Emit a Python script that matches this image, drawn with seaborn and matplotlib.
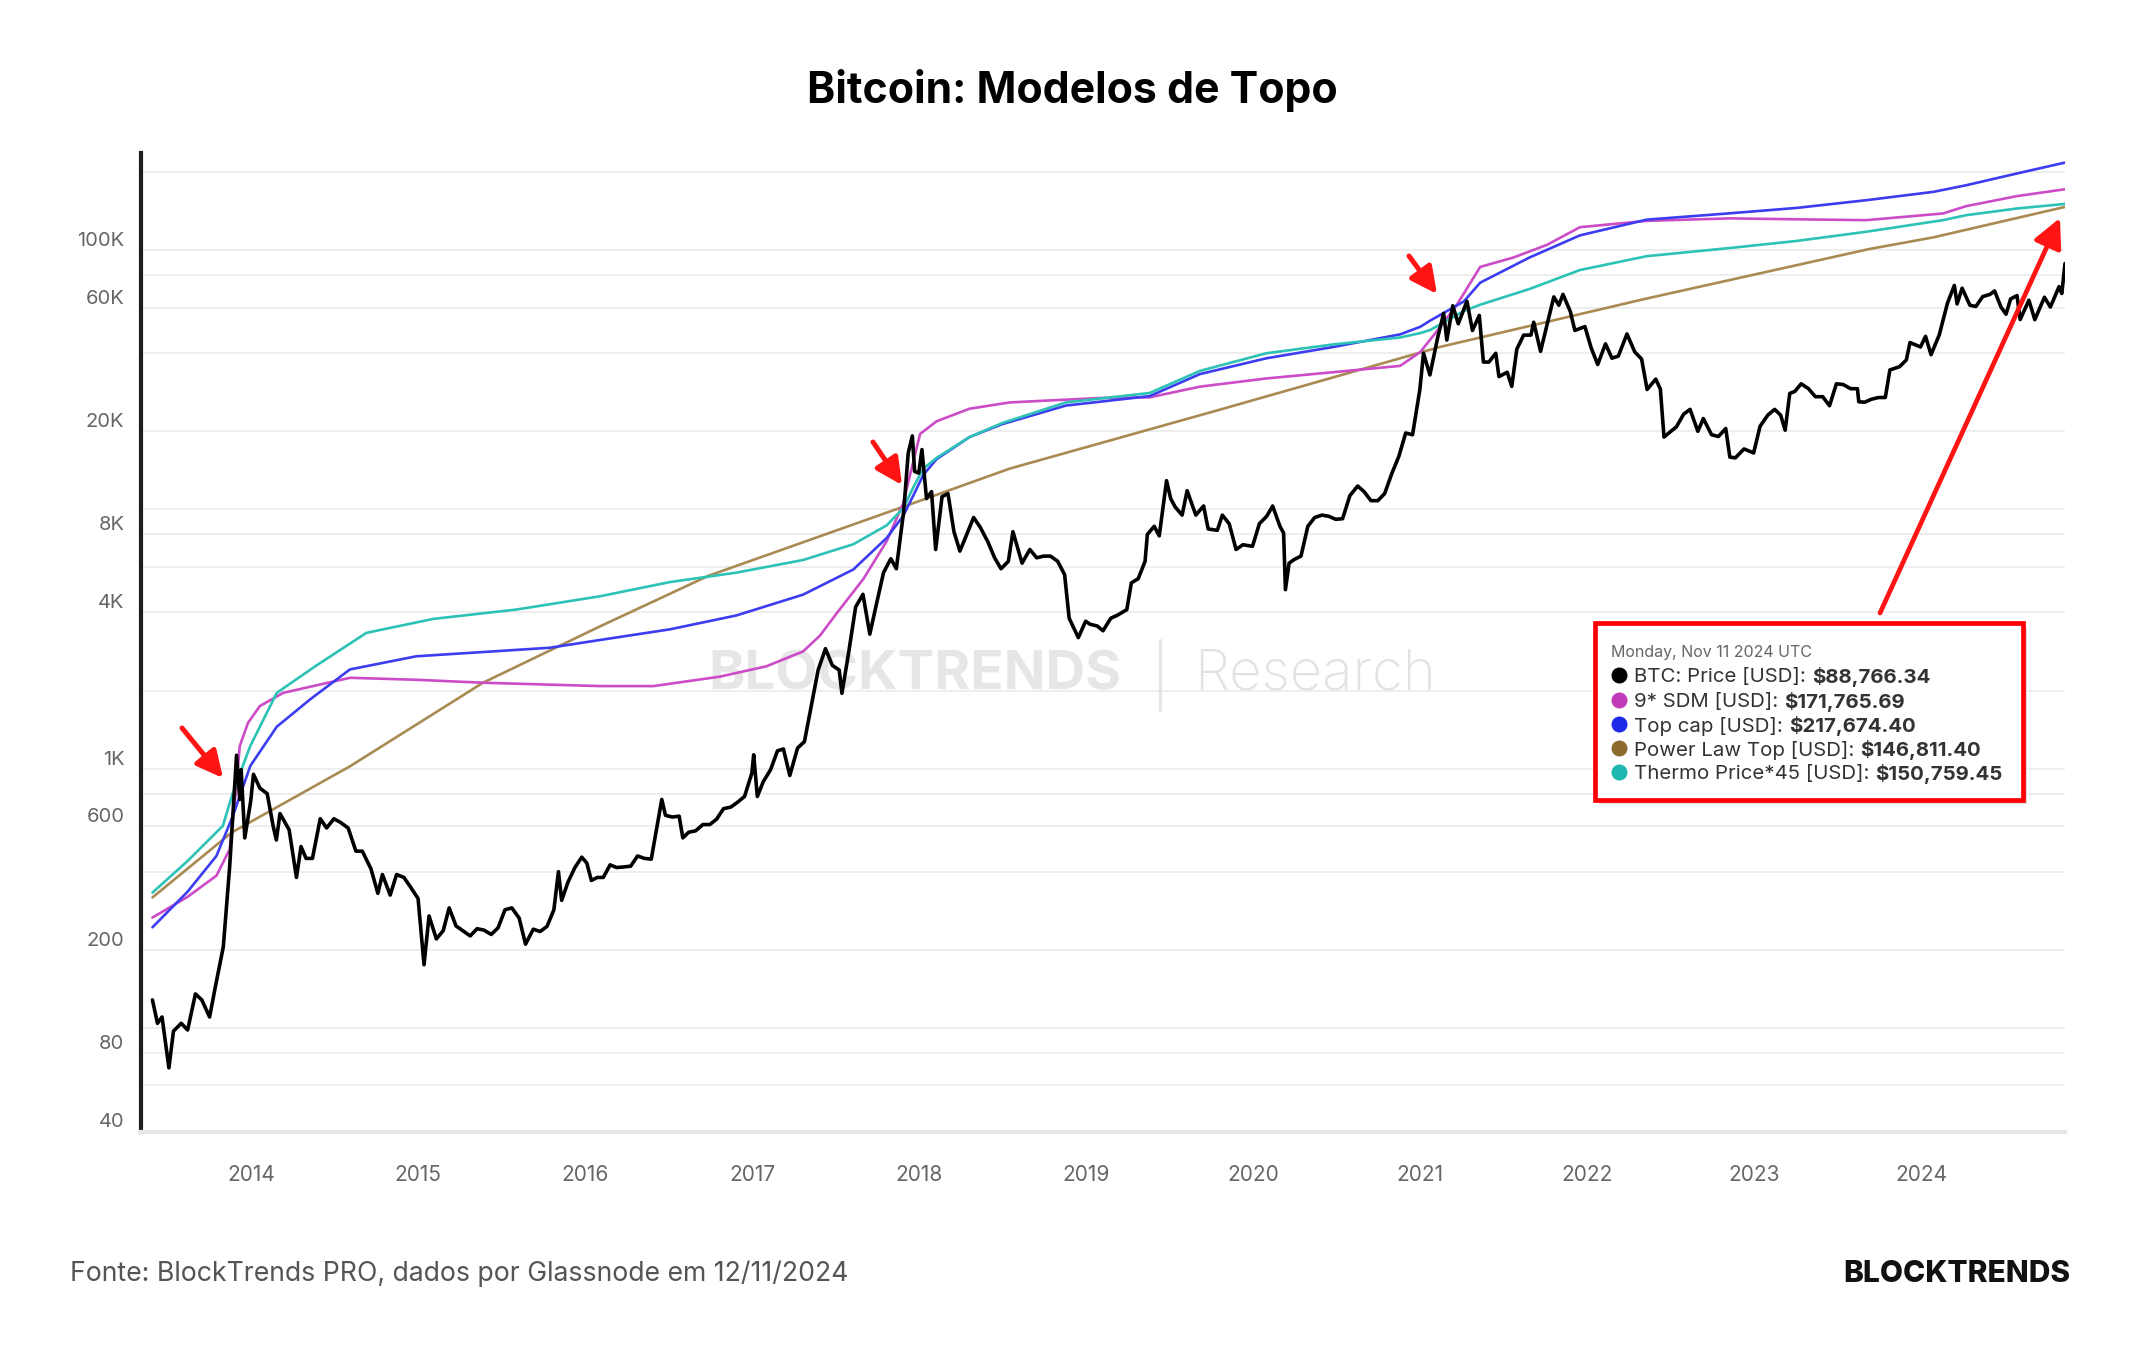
import matplotlib
matplotlib.use('Agg')
import matplotlib.pyplot as plt
import matplotlib.dates as mdates
import matplotlib.transforms as mtransforms
from matplotlib.lines import Line2D
from matplotlib.patches import Rectangle
from matplotlib.ticker import FixedLocator, FuncFormatter, NullFormatter
import pandas as pd
import seaborn as sns

# BTC price (USD), roughly two readings per month
btc_dates = [
    '2013-05-30', '2013-06-10', '2013-06-20', '2013-07-05', '2013-07-15', '2013-08-01', '2013-08-15', '2013-09-01',
    '2013-09-15', '2013-10-02', '2013-10-15', '2013-11-01', '2013-11-15', '2013-11-30', '2013-12-07', '2013-12-10',
    '2013-12-18', '2013-12-31',
    '2014-01-06', '2014-01-20', '2014-02-05', '2014-02-18', '2014-02-25', '2014-03-05', '2014-03-25', '2014-04-10',
    '2014-04-20', '2014-05-01', '2014-05-15', '2014-06-01', '2014-06-15', '2014-07-01', '2014-07-15', '2014-08-01',
    '2014-08-18', '2014-09-01', '2014-09-20', '2014-10-05', '2014-10-15', '2014-11-01', '2014-11-15', '2014-12-01',
    '2014-12-15',
    '2015-01-01', '2015-01-14', '2015-01-25', '2015-02-10', '2015-02-25', '2015-03-10', '2015-03-25', '2015-04-10',
    '2015-04-25', '2015-05-10', '2015-05-25', '2015-06-10', '2015-06-25', '2015-07-10', '2015-07-25', '2015-08-10',
    '2015-08-24', '2015-09-10', '2015-09-25', '2015-10-10', '2015-10-25', '2015-11-04', '2015-11-11', '2015-11-25',
    '2015-12-10', '2015-12-25',
    '2016-01-05', '2016-01-15', '2016-01-28', '2016-02-10', '2016-02-25', '2016-03-10', '2016-03-25', '2016-04-10',
    '2016-04-25', '2016-05-10', '2016-05-25', '2016-06-05', '2016-06-17', '2016-06-25', '2016-07-10', '2016-07-25',
    '2016-08-02', '2016-08-15', '2016-08-30', '2016-09-15', '2016-09-30', '2016-10-15', '2016-10-30', '2016-11-15',
    '2016-11-30', '2016-12-15', '2016-12-31',
    '2017-01-04', '2017-01-12', '2017-01-25', '2017-02-10', '2017-02-25', '2017-03-10', '2017-03-24', '2017-04-10',
    '2017-04-25', '2017-05-10', '2017-05-25', '2017-06-10', '2017-06-25', '2017-07-10', '2017-07-16', '2017-07-30',
    '2017-08-15', '2017-08-31', '2017-09-15', '2017-09-30', '2017-10-15', '2017-10-31', '2017-11-12', '2017-11-28',
    '2017-12-08', '2017-12-17', '2017-12-22', '2017-12-31',
    '2018-01-07', '2018-01-17', '2018-01-28', '2018-02-06', '2018-02-20', '2018-03-05', '2018-03-18', '2018-03-31',
    '2018-04-15', '2018-04-30', '2018-05-15', '2018-05-31', '2018-06-15', '2018-06-29', '2018-07-15', '2018-07-25',
    '2018-08-14', '2018-08-31', '2018-09-15', '2018-09-30', '2018-10-15', '2018-10-31', '2018-11-15', '2018-11-25',
    '2018-12-15', '2018-12-31',
    '2019-01-10', '2019-01-25', '2019-02-07', '2019-02-24', '2019-03-10', '2019-03-31', '2019-04-10', '2019-04-25',
    '2019-05-10', '2019-05-15', '2019-05-30', '2019-06-10', '2019-06-26', '2019-07-05', '2019-07-15', '2019-07-30',
    '2019-08-10', '2019-08-29', '2019-09-15', '2019-09-25', '2019-10-15', '2019-10-26', '2019-11-10', '2019-11-25',
    '2019-12-10', '2019-12-31',
    '2020-01-15', '2020-01-31', '2020-02-13', '2020-02-29', '2020-03-08', '2020-03-12', '2020-03-20', '2020-03-31',
    '2020-04-15', '2020-04-30', '2020-05-15', '2020-05-31', '2020-06-15', '2020-06-30', '2020-07-15', '2020-07-31',
    '2020-08-17', '2020-08-31', '2020-09-15', '2020-09-30', '2020-10-15', '2020-10-31', '2020-11-15', '2020-11-30',
    '2020-12-15', '2020-12-31',
    '2021-01-08', '2021-01-22', '2021-02-08', '2021-02-21', '2021-02-28', '2021-03-13', '2021-03-25', '2021-04-13',
    '2021-04-25', '2021-05-10', '2021-05-19', '2021-05-31', '2021-06-15', '2021-06-22', '2021-07-10', '2021-07-20',
    '2021-07-31', '2021-08-15', '2021-08-31', '2021-09-06', '2021-09-21', '2021-10-05', '2021-10-20', '2021-10-31',
    '2021-11-09', '2021-11-25', '2021-12-05', '2021-12-27',
    '2022-01-10', '2022-01-24', '2022-02-10', '2022-02-24', '2022-03-10', '2022-03-29', '2022-04-15', '2022-04-30',
    '2022-05-12', '2022-05-31', '2022-06-10', '2022-06-18', '2022-06-30', '2022-07-15', '2022-07-31', '2022-08-14',
    '2022-08-31', '2022-09-12', '2022-09-30', '2022-10-15', '2022-10-31', '2022-11-09', '2022-11-21', '2022-12-10',
    '2022-12-31',
    '2023-01-14', '2023-01-31', '2023-02-15', '2023-02-28', '2023-03-10', '2023-03-20', '2023-03-31', '2023-04-14',
    '2023-04-30', '2023-05-15', '2023-05-31', '2023-06-15', '2023-06-30', '2023-07-15', '2023-07-31', '2023-08-15',
    '2023-08-18', '2023-08-31', '2023-09-15', '2023-09-30', '2023-10-15', '2023-10-25', '2023-11-15', '2023-11-30',
    '2023-12-08', '2023-12-31',
    '2024-01-11', '2024-01-23', '2024-02-10', '2024-02-28', '2024-03-14', '2024-03-20', '2024-03-31', '2024-04-17',
    '2024-04-30', '2024-05-15', '2024-05-31', '2024-06-10', '2024-06-24', '2024-07-05', '2024-07-15', '2024-07-29',
    '2024-08-05', '2024-08-24', '2024-09-06', '2024-09-27', '2024-10-10', '2024-10-29', '2024-11-04', '2024-11-11',
]
btc_prices = [
    128, 104, 110, 70, 97, 104, 98, 135, 128, 110, 145, 205, 420, 1125, 760, 990, 540, 750,
    950, 840, 800, 600, 530, 670, 580, 380, 500, 450, 450, 640, 590, 640, 620, 590, 480, 480, 410, 330, 390, 325,
    390, 380, 350,
    315, 175, 270, 220, 237, 290, 247, 236, 226, 241, 238, 229, 243, 285, 290, 265, 210, 240, 235, 246, 285, 400,
    310, 365, 415, 455,
    432, 370, 380, 380, 425, 415, 417, 420, 460, 450, 447, 575, 760, 660, 650, 655, 540, 568, 575, 608, 608, 638,
    700, 710, 742, 780, 960,
    1130, 780, 890, 990, 1170, 1190, 940, 1200, 1270, 1750, 2400, 2900, 2500, 2400, 1950, 2750, 4200, 4700, 3300,
    4350, 5700, 6450, 5900, 9800, 16500, 19200, 14000, 13800,
    17000, 11000, 11700, 7000, 11200, 11500, 8200, 6900, 8000, 9300, 8500, 7500, 6500, 5900, 6300, 8200, 6200,
    7000, 6500, 6600, 6600, 6300, 5600, 3800, 3200, 3700,
    3600, 3550, 3400, 3800, 3900, 4100, 5200, 5400, 6300, 8000, 8600, 7900, 12900, 11000, 10200, 9500, 11800,
    9500, 10300, 8400, 8300, 9500, 8800, 7000, 7300, 7200,
    8800, 9400, 10300, 8600, 8100, 4900, 6200, 6400, 6600, 8600, 9300, 9500, 9400, 9150, 9200, 11300, 12300,
    11700, 10800, 10800, 11500, 13800, 16000, 19700, 19400, 29000,
    40000, 33000, 46000, 57000, 45000, 61000, 52000, 63500, 49000, 56000, 37000, 37000, 40000, 32500, 33800,
    29800, 41500, 47000, 47000, 52700, 40700, 51500, 66000, 61300, 67500, 58000, 49000, 50700,
    41800, 36200, 43500, 38300, 39000, 47500, 40500, 38000, 29000, 31800, 29100, 19000, 19800, 20800, 23300,
    24300, 20000, 22400, 19400, 19100, 20500, 15900, 15800, 17100, 16500,
    20900, 23100, 24300, 23100, 20200, 28000, 28500, 30500, 29200, 27200, 27200, 25100, 30500, 30300, 29200,
    29200, 26000, 25900, 26600, 27000, 27000, 34500, 35500, 37700, 44000, 42300,
    46500, 39500, 47100, 62500, 73100, 62000, 71300, 61300, 60600, 66200, 67500, 69600, 60300, 56600, 64800,
    66800, 54000, 64100, 53900, 65800, 60300, 72300, 68000, 88766.34,
]

# 9* SDM (magenta)
sdm_dates = ['2013-05-30', '2013-08-15', '2013-10-17', '2013-11-15', '2013-11-28', '2013-12-07', '2013-12-25',
             '2014-01-20', '2014-03-12', '2014-08-05', '2014-12-28', '2015-05-23', '2016-02-03', '2016-05-30',
             '2016-10-22', '2017-02-01', '2017-04-22', '2017-05-29', '2017-07-04', '2017-09-01', '2017-10-22',
             '2017-11-27', '2017-12-12', '2018-01-03', '2018-02-08', '2018-04-21', '2018-07-18', '2019-01-31',
             '2019-05-20', '2019-09-07', '2020-01-30', '2020-06-25', '2020-11-18', '2021-01-01', '2021-02-03',
             '2021-03-22', '2021-05-12', '2021-07-24', '2021-10-05', '2021-12-16', '2022-05-11', '2022-11-09',
             '2023-04-04', '2023-09-03', '2024-02-18', '2024-04-09', '2024-07-28', '2024-11-11']
sdm_values = [266, 320, 386, 488, 800, 1222, 1500, 1742, 1959, 2239, 2200, 2143, 2080, 2080, 2262, 2480, 2830,
              3256, 3960, 5389, 7542, 10550, 13580, 19540, 21860, 24440, 25850, 26890, 27040, 29740, 31980,
              33820, 35770, 40460, 47860, 61570, 86150, 93700, 104800, 122600, 129700, 132600, 131500, 130500,
              138500, 147800, 161500, 171765.69]

# Top cap (blue)
topcap_dates = ['2013-05-30', '2013-08-15', '2013-10-17', '2013-11-22', '2013-12-30', '2014-02-26', '2014-05-10',
                '2014-08-05', '2014-12-28', '2015-10-16', '2016-02-03', '2016-07-05', '2016-11-27', '2017-04-22',
                '2017-08-10', '2017-10-22', '2017-11-27', '2017-12-19', '2018-01-10', '2018-02-08', '2018-04-21',
                '2018-07-01', '2018-11-18', '2019-05-20', '2019-09-07', '2020-01-30', '2020-06-25', '2020-11-18',
                '2021-01-01', '2021-01-23', '2021-04-06', '2021-05-12', '2021-08-28', '2021-12-16', '2022-05-11',
                '2022-11-09', '2023-04-04', '2023-09-03', '2024-01-28', '2024-04-09', '2024-07-28', '2024-11-11']
topcap_values = [244, 335, 460, 657, 1023, 1450, 1849, 2412, 2710, 2924, 3133, 3444, 3895, 4686, 5861, 7757, 9434,
                 11290, 13580, 15620, 19000, 21300, 25140, 27340, 33250, 38250, 42310, 47320, 50610, 53520, 63330,
                 74900, 93700, 114000, 131100, 138700, 145500, 155800, 167800, 178000, 197400, 217674.40]

# Power Law Top (brown)
plaw_dates = ['2013-05-30', '2013-11-19', '2014-08-05', '2015-05-23', '2016-02-03', '2016-09-27', '2017-11-25',
              '2018-07-18', '2019-10-12', '2021-02-13', '2022-05-10', '2023-09-10', '2024-01-28', '2024-11-11']
plaw_values = [318, 566, 1020, 2143, 3536, 5540, 10200, 14360, 24000, 42310, 65000, 101000, 112000, 146811.40]

# Thermo Price*45 (cyan)
thermo_dates = ['2013-05-30', '2013-08-15', '2013-10-31', '2013-11-22', '2013-12-30', '2014-02-26', '2014-05-24',
                '2014-09-10', '2015-02-03', '2015-08-04', '2016-02-03', '2016-07-05', '2016-11-27', '2017-04-22',
                '2017-08-10', '2017-10-22', '2017-11-27', '2017-12-19', '2018-01-10', '2018-02-08', '2018-04-21',
                '2018-07-01', '2018-11-18', '2019-05-20', '2019-09-07', '2020-01-30', '2020-06-25', '2020-11-18',
                '2021-01-01', '2021-01-23', '2021-04-06', '2021-05-12', '2021-08-28', '2021-12-16', '2022-05-11',
                '2022-11-09', '2023-04-04', '2023-09-03', '2024-02-18', '2024-04-09', '2024-07-28', '2024-11-11']
thermo_values = [332, 440, 601, 807, 1222, 1959, 2500, 3337, 3778, 4105, 4620, 5241, 5698, 6375, 7333, 8677,
                 10090, 12140, 14360, 15790, 19000, 21500, 25850, 28110, 34200, 40000, 43270, 46030, 47860, 49210,
                 58220, 61570, 70820, 83780, 94760, 101900, 108500, 117700, 130500, 136400, 144700, 150759.45]

y_label_ticks = [40, 80, 200, 600, 1000, 4000, 8000, 20000, 60000, 100000]
y_grid_ticks = [60, 100, 400, 800, 2000, 6000, 10000, 40000, 80000, 200000]

tooltip_rows = [
    ('BTC: Price [USD]:', '$88,766.34', '#000000'),
    ('9* SDM [USD]:', '$171,765.69', '#c13ab8'),
    ('Top cap [USD]:', '$217,674.40', '#1c2be6'),
    ('Power Law Top [USD]:', '$146,811.40', '#8d692b'),
    ('Thermo Price*45 [USD]:', '$150,759.45', '#1db8b0'),
]

palette = {'sdm': '#cc4cc8', 'topcap': '#3c3cf0', 'plaw': '#a98a52', 'thermo': '#2cc2b6'}

W, H = 2144, 1350


def fx(px):
    return px / W


def fy(py):
    return 1 - py / H


def ytick_fmt(v, pos):
    if v >= 1000:
        return f'{v / 1000:g}K'
    return f'{v:g}'


sns.set_style('white')
plt.rcParams['font.family'] = ['Inter', 'DejaVu Sans']

fig = plt.figure(figsize=(W / 100, H / 100), dpi=100)
ax = fig.add_axes([fx(141), fy(1132), fx(2065) - fx(141), fy(153) - fy(1132)])

# model lines in long format
frames = []
for name, d, v in [('plaw', plaw_dates, plaw_values), ('sdm', sdm_dates, sdm_values),
                   ('topcap', topcap_dates, topcap_values), ('thermo', thermo_dates, thermo_values)]:
    frames.append(pd.DataFrame({'date': pd.to_datetime(d), 'value': v, 'model': name}))
models = pd.concat(frames, ignore_index=True)

sns.lineplot(data=models, x='date', y='value', hue='model', palette=palette, estimator=None,
             linewidth=1.9, legend=False, ax=ax, zorder=3)
sns.lineplot(x=pd.to_datetime(btc_dates), y=btc_prices, color='black', linewidth=2.6,
             estimator=None, ax=ax, zorder=5)

ax.set_yscale('log')
ax.set_ylim(39.6, 237000)
ax.set_xlim(pd.Timestamp('2013-05-05'), pd.Timestamp('2024-11-11'))
ax.set_xlabel('')
ax.set_ylabel('')

ax.yaxis.set_major_locator(FixedLocator(y_label_ticks))
ax.yaxis.set_minor_locator(FixedLocator(y_grid_ticks))
ax.yaxis.set_major_formatter(FuncFormatter(ytick_fmt))
ax.yaxis.set_minor_formatter(NullFormatter())
ax.tick_params(axis='y', which='both', length=0, pad=12, labelsize=14.5, labelcolor='#666666')
ax.grid(axis='y', which='both', color='#ededed', linewidth=1.3, zorder=0)
ax.grid(axis='x', visible=False)

ax.xaxis.set_major_locator(mdates.YearLocator())
ax.xaxis.set_major_formatter(mdates.DateFormatter('%Y'))
ax.tick_params(axis='x', length=14, width=1, color='#e6e6e6', pad=10, labelsize=15, labelcolor='#666666')

# y labels sit a little above their grid lines
offset = mtransforms.ScaledTranslation(0, 11 / 100, fig.dpi_scale_trans)
for lab in ax.get_yticklabels():
    lab.set_transform(lab.get_transform() + offset)

ax.spines['top'].set_visible(False)
ax.spines['right'].set_visible(False)
ax.spines['left'].set_color('#1e1e1e')
ax.spines['left'].set_linewidth(3)
ax.spines['bottom'].set_color('#e6e6e6')
ax.spines['bottom'].set_linewidth(3)

# watermark
ax.text(fx(1121), fy(675), 'BLOCKTRENDS', transform=fig.transFigure, ha='right', va='center',
        fontsize=39.5, fontweight='bold', color='#e6e6e6', zorder=1)
ax.add_line(Line2D([fx(1160), fx(1160)], [fy(640), fy(710)], transform=fig.transFigure,
                   color='#e5e5e5', linewidth=2.2, zorder=1))
ax.text(fx(1194), fy(675), 'Research', transform=fig.transFigure, ha='left', va='center',
        fontsize=40.5, fontweight='light', color='#e2e2e2', zorder=1)

# title and footer
fig.text(0.5, fy(90), 'Bitcoin: Modelos de Topo', ha='center', va='center', fontsize=30.8,
         fontweight='bold', color='black')
fig.text(fx(70), fy(1274), 'Fonte: BlockTrends PRO, dados por Glassnode em 12/11/2024', ha='left',
         va='center', fontsize=19.2, color='#555555')
fig.text(fx(2070), fy(1274), 'BLOCKTRENDS', ha='right', va='center', fontsize=21.5, fontweight='heavy',
         color='#111111')


# red arrows (figure pixel positions, y from top)
def arrow(tail, head, lw=3.6, scale=20):
    ax.annotate('', xy=(head[0], H - head[1]), xycoords='figure pixels',
                xytext=(tail[0], H - tail[1]), textcoords='figure pixels',
                arrowprops=dict(arrowstyle='-|>,head_length=0.8,head_width=0.4', color='#ff1414',
                                lw=lw, shrinkA=0, shrinkB=0, mutation_scale=scale),
                annotation_clip=False, zorder=8)


arrow((182, 728), (223, 778))
arrow((873, 442), (902, 485))
arrow((1409, 256), (1437, 294))
arrow((1880, 613), (2060, 218), lw=3.4, scale=22)

# tooltip box
fig.add_artist(Rectangle((fx(1599), fy(804)), fx(2027) - fx(1599), fy(627) - fy(804),
                         transform=fig.transFigure, facecolor='#d8d8d8', edgecolor='none', zorder=9))
fig.add_artist(Rectangle((fx(1595), fy(800)), fx(2023) - fx(1595), fy(623) - fy(800),
                         transform=fig.transFigure, facecolor='white', edgecolor='#ff0000',
                         linewidth=3.4, zorder=10))
fig.text(fx(1611), fy(652), 'Monday, Nov 11 2024 UTC', ha='left', va='center', fontsize=11.5,
         color='#666666', zorder=11)

row_y = [675, 700, 724, 748, 772]
labels = []
for (lab, val, col), yy in zip(tooltip_rows, row_y):
    fig.add_artist(Line2D([fx(1619)], [fy(yy)], transform=fig.transFigure, marker='o', markersize=10.5,
                          color=col, linestyle='none', zorder=11))
    t = fig.text(fx(1634), fy(yy), lab, ha='left', va='center_baseline', fontsize=14.7, color='#333333',
                 zorder=11)
    labels.append((t, val, yy))

fig.canvas.draw()
renderer = fig.canvas.get_renderer()
for t, val, yy in labels:
    bb = t.get_window_extent(renderer)
    fig.text((bb.x1 + 6) / W, fy(yy), val, ha='left', va='center_baseline', fontsize=14.7,
             fontweight='bold', color='#333333', zorder=11)

fig.savefig('out.png', dpi=100, facecolor='white')
